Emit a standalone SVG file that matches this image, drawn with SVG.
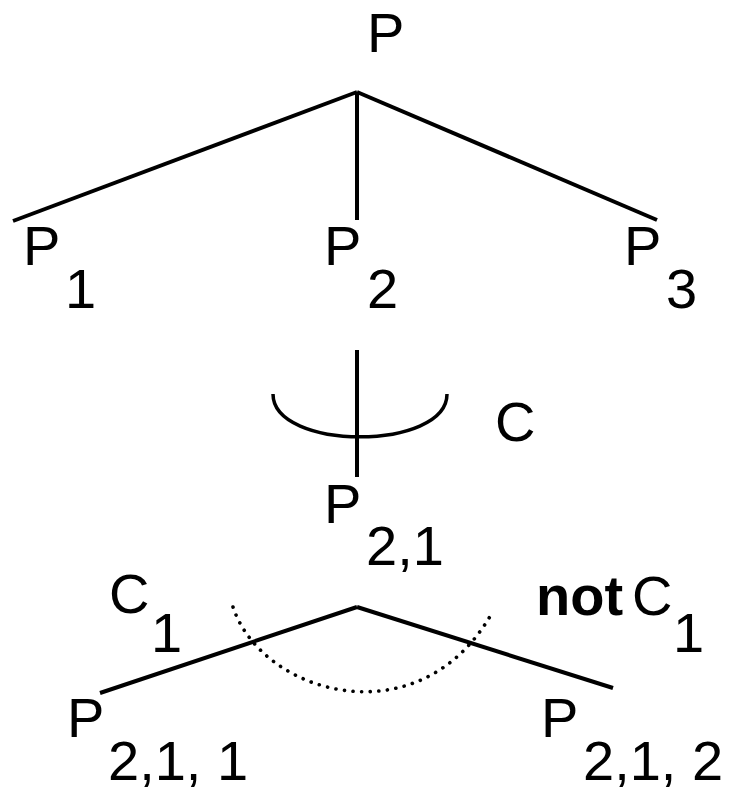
<svg xmlns="http://www.w3.org/2000/svg" width="734" height="792" viewBox="0 0 734 792">
<style>
.t{font-family:"Liberation Sans",Arial,sans-serif;font-size:56px;fill:#000}
.b{font-weight:bold}
.ln{stroke:#000;stroke-width:4;fill:none;stroke-linecap:butt}
.arc{stroke:#000;stroke-width:3.5;fill:none}
.dot{stroke:#000;stroke-width:3.6;fill:none;stroke-linecap:round;stroke-dasharray:0.1 8.5}
</style>
<rect width="734" height="792" fill="#fff"/>
<g id="connectors">
<path class="ln" d="M357,92 L13,221"/>
<path class="ln" d="M357,92 L357,220"/>
<path class="ln" d="M357,92 L657,220"/>
<path class="ln" d="M357,350 L357,477"/>
<path class="arc" d="M273,394 C273,451 447,451 447,394"/>
<path class="ln" d="M357,607 L100,693"/>
<path class="ln" d="M357,607 L613,688"/>
<path class="dot" d="M233,607 C262,695 420,740 492,613"/>
</g>
<g id="P"><text class="t" x="367" y="52">P</text></g>
<g id="P1"><text class="t" x="23" y="265">P<tspan x="65" y="308">1</tspan></text></g>
<g id="P2"><text class="t" x="324" y="265">P<tspan x="367" y="308">2</tspan></text></g>
<g id="P3"><text class="t" x="624" y="265">P<tspan x="666" y="308">3</tspan></text></g>
<g id="C"><text class="t" x="495" y="441">C</text></g>
<g id="P21"><text class="t" x="324" y="523">P<tspan x="366" y="565">2,1</tspan></text></g>
<g id="C1"><text class="t" x="109" y="613">C<tspan x="151" y="652">1</tspan></text></g>
<g id="notC1"><text class="t" x="536" y="615"><tspan class="b">not</tspan><tspan x="632" y="615">C</tspan><tspan x="673" y="652">1</tspan></text></g>
<g id="P211"><text class="t" x="67" y="737">P<tspan x="108" y="780">2,1, 1</tspan></text></g>
<g id="P212"><text class="t" x="541" y="737">P<tspan x="583" y="780">2,1, 2</tspan></text></g>
</svg>
